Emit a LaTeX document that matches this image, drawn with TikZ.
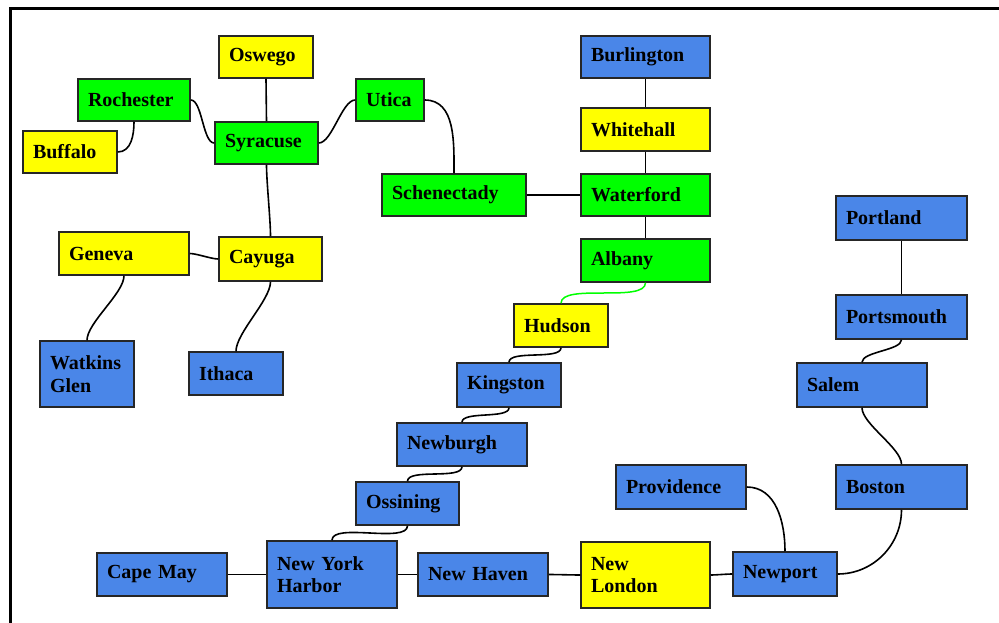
\documentclass[tikz,border=0pt]{standalone}
\usepackage{fontspec}
\setmainfont{Liberation Serif}
\definecolor{cyel}{RGB}{255,255,0}
\definecolor{cgrn}{RGB}{0,255,0}
\definecolor{cblu}{RGB}{74,134,232}
\tikzset{
  citybox/.style={draw=black!85, line width=1.5pt, rectangle, inner xsep=10pt, inner ysep=0pt,
    align=left, font=\fontsize{20}{22.5}\selectfont\bfseries},
  link/.style={draw=black, line width=1.6pt},
  glink/.style={draw=cgrn, line width=1.5pt},
  vs/.style={out=-90,in=90,looseness=0.6},
  hs/.style={out=0,in=180,looseness=0.6},
  frame/.style={draw=black, line width=2.6pt}
}
\newcommand\city[7]{%
  \pgfmathsetmacro\cw{#4-#2}\pgfmathsetmacro\chh{#5-#3}\pgfmathsetmacro\tw{#4-#2-20}%
  \node[citybox, fill=#6, minimum width=\cw pt, minimum height=\chh pt, text width=\tw pt]
    (#1) at ({(#2+#4)/2},{(#3+#5)/2}) {#7};}
\begin{document}
\begin{tikzpicture}[x=1pt,y=-1pt]
\useasboundingbox (0,0) rectangle (999,623);
\draw[frame] (10.7,624) -- (10.7,8.6) -- (1000,8.6);
% nodes
\city{oswego}{219}{36}{313}{78}{cyel}{Oswego}
\city{rochester}{78}{79}{190}{121}{cgrn}{Rochester}
\city{buffalo}{23}{131}{117}{173}{cyel}{Buffalo}
\city{syracuse}{215}{122}{318}{164}{cgrn}{Syracuse}
\city{utica}{356}{79}{424}{121}{cgrn}{Utica}
\city{burlington}{581}{36}{710}{78}{cblu}{Burlington}
\city{whitehall}{581}{108}{710}{151}{cyel}{Whitehall}
\city{schenectady}{382}{174}{526}{216}{cgrn}{Schenectady}
\city{waterford}{581}{174}{710}{216}{cgrn}{Waterford}
\city{albany}{581}{239}{710}{282}{cgrn}{Albany}
\city{geneva}{59}{232}{189}{275}{cyel}{Geneva}
\city{cayuga}{219}{237}{322}{281}{cyel}{Cayuga}
\city{watkins}{40}{341}{134}{407}{cblu}{Watkins\\Glen}
\city{ithaca}{189}{352}{283}{395}{cblu}{Ithaca}
\city{portland}{836}{196}{967}{240}{cblu}{Portland}
\city{portsmouth}{836}{295}{967}{339}{cblu}{Portsmouth}
\city{salem}{797}{363}{927}{407}{cblu}{Salem}
\city{boston}{836}{465}{967}{509}{cblu}{Boston}
\city{newport}{733}{552}{837}{596}{cblu}{Newport}
\city{providence}{616}{465}{746}{509}{cblu}{Providence}
\city{hudson}{514}{304}{608}{347}{cyel}{Hudson}
\city{kingston}{457}{363}{561}{407}{cblu}{Kingston}
\city{newburgh}{397}{423}{527}{466}{cblu}{Newburgh}
\city{ossining}{356}{482}{459}{525}{cblu}{Ossining}
\city{capemay}{97}{553}{227}{596}{cblu}{Cape May}
\city{nyh}{267}{541}{397}{608}{cblu}{New York\\Harbor}
\city{newhaven}{418}{553}{548}{596}{cblu}{New Haven}
\city{newlondon}{581}{542}{710}{608}{cyel}{New\\London}
% connectors
\draw[link] (oswego.south) -- (syracuse.north);
\draw[link] (rochester.east) to[hs] (syracuse.west);
\draw[link] (buffalo.east) to[out=0,in=-90] (rochester.south);
\draw[link] (syracuse.east) to[hs] (utica.west);
\draw[link] (utica.east) to[out=0,in=90] (schenectady.north);
\draw[link] (schenectady.east) -- (waterford.west);
\draw[link] (burlington.south) to[vs] (whitehall.north);
\draw[link] (whitehall.south) to[vs] (waterford.north);
\draw[link] (waterford.south) to[vs] (albany.north);
\draw[glink] (albany.south) to[vs] (hudson.north);
\draw[link] (syracuse.south) to[vs] (cayuga.north);
\draw[link] (geneva.east) to[hs] (cayuga.west);
\draw[link] (geneva.south) to[vs] (watkins.north);
\draw[link] (cayuga.south) to[vs] (ithaca.north);
\draw[link] (hudson.south) to[vs] (kingston.north);
\draw[link] (kingston.south) to[vs] (newburgh.north);
\draw[link] (newburgh.south) to[vs] (ossining.north);
\draw[link] (ossining.south) to[vs] (nyh.north);
\draw[link] (capemay.east) -- (nyh.west);
\draw[link] (nyh.east) to[hs] (newhaven.west);
\draw[link] (newhaven.east) to[hs] (newlondon.west);
\draw[link] (newlondon.east) to[hs] (newport.west);
\draw[link] (providence.east) to[out=0,in=90] (newport.north);
\draw[link] (boston.south) to[out=-90,in=0] (newport.east);
\draw[link] (salem.south) to[vs] (boston.north);
\draw[link] (portsmouth.south) to[vs] (salem.north);
\draw[link] (portland.south) to[vs] (portsmouth.north);
\end{tikzpicture}
\end{document}
